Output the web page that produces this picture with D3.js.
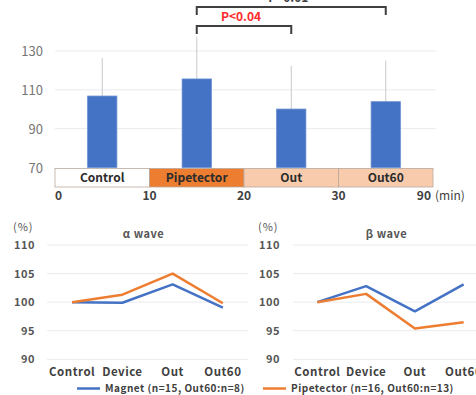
<!DOCTYPE html>
<html>
<head>
<meta charset="utf-8">
<script src="https://cdn.jsdelivr.net/npm/d3@7.9.0/dist/d3.min.js"></script>
<style>
  body { margin: 0; background: #fff; }
  svg { display: block; font-family: 'Noto Sans CJK JP', 'Noto Sans', sans-serif; }
</style>
</head>
<body>
<svg id="chart" width="476" height="395"></svg>
<script>
// top bar chart
const phases = ['Control', 'Pipetector', 'Out', 'Out60'];
const barMeans = [106.8, 115.6, 100.1, 103.9];
const barUpper = [126.4, 137.5, 122.4, 125.2];
const barTicks = [70, 90, 110, 130];
const timeLabels = ['0', '10', '20', '30', '90'];
const phaseFills = ['#ffffff', '#ed7d31', '#f8cbad', '#f8cbad'];

// line charts
const points = ['Control', 'Device', 'Out', 'Out60'];
const alphaMagnet = [100, 99.9, 103.1, 99.05];
const alphaPipetector = [100, 101.3, 105.0, 99.8];
const betaMagnet = [100, 102.8, 98.4, 103.1];
const betaPipetector = [100, 101.45, 95.4, 96.5];
const lineTicks = [90, 95, 100, 105, 110];
const seriesNames = ['Magnet (n=15, Out60:n=8)', 'Pipetector (n=16, Out60:n=13)'];
const seriesColors = ['#4472c4', '#ed7d31'];

const svg = d3.select('#chart');

// ---- top chart ----
const x = d3.scaleBand().domain(phases).range([55, 433]);
const y = d3.scaleLinear().domain([70, 130]).range([167.5, 51]);

svg.append('g').selectAll('line')
  .data(barTicks.slice(1))
  .join('line')
  .attr('x1', 55).attr('x2', 436)
  .attr('y1', d => y(d)).attr('y2', d => y(d))
  .attr('stroke', '#ebebeb');

svg.append('g').selectAll('text')
  .data(barTicks)
  .join('text')
  .attr('x', 43).attr('y', d => y(d) + 5)
  .attr('text-anchor', 'end')
  .attr('font-size', 13)
  .attr('fill', '#767676')
  .text(d => d);

// error bars (upper only)
svg.append('g').selectAll('line')
  .data(phases)
  .join('line')
  .attr('x1', d => x(d) + x.bandwidth() / 2)
  .attr('x2', d => x(d) + x.bandwidth() / 2)
  .attr('y1', (d, i) => y(barMeans[i]))
  .attr('y2', (d, i) => y(barUpper[i]))
  .attr('stroke', '#c8c8c8')
  .attr('stroke-width', 1);

const bw = x.bandwidth() * 0.31;
svg.append('g').selectAll('rect')
  .data(phases)
  .join('rect')
  .attr('x', d => x(d) + x.bandwidth() / 2 - bw / 2)
  .attr('width', bw)
  .attr('y', (d, i) => y(barMeans[i]))
  .attr('height', (d, i) => y(70) - y(barMeans[i]))
  .attr('fill', '#4472c4')
  .attr('stroke', '#6a8fd3')
  .attr('stroke-width', 0.8);

// phase strip
const strip = svg.append('g');
strip.selectAll('rect')
  .data(phases)
  .join('rect')
  .attr('x', d => x(d))
  .attr('y', 168.5)
  .attr('width', x.bandwidth())
  .attr('height', 18.5)
  .attr('fill', (d, i) => phaseFills[i])
  .attr('stroke', '#b9a89c')
  .attr('stroke-width', 0.8);
strip.selectAll('text')
  .data(phases)
  .join('text')
  .attr('x', d => x(d) + x.bandwidth() / 2)
  .attr('y', 182)
  .attr('text-anchor', 'middle')
  .attr('font-size', 12)
  .attr('font-weight', 'bold')
  .attr('fill', '#2b2b2b')
  .text(d => d);

// time labels at strip boundaries
const bounds = phases.map(d => x(d)).concat([x.range()[1]]);
svg.append('g').selectAll('text')
  .data(timeLabels)
  .join('text')
  .attr('x', (d, i) => i === 0 ? bounds[i] : i === 4 ? bounds[i] - 2 : bounds[i])
  .attr('y', 200)
  .attr('text-anchor', (d, i) => i === 0 ? 'start' : i === 4 ? 'end' : 'middle')
  .attr('font-size', 12)
  .attr('font-weight', 'bold')
  .attr('fill', '#404040')
  .text(d => d);
svg.append('text')
  .attr('x', bounds[4] + 2).attr('y', 200)
  .attr('font-size', 12)
  .attr('fill', '#404040')
  .text('(min)');

// significance brackets
const cx = d => x(d) + x.bandwidth() / 2;
function bracket(a, b, top, label, color) {
  svg.append('path')
    .attr('d', `M${cx(a)},${top + 8}V${top}H${cx(b)}V${top + 8}`)
    .attr('fill', 'none')
    .attr('stroke', '#3f3f3f')
    .attr('stroke-width', 2);
  svg.append('text')
    .attr('x', (cx(a) + cx(b)) / 2 - 3)
    .attr('y', top - 5)
    .attr('text-anchor', 'middle')
    .attr('font-size', 12)
    .attr('font-weight', 'bold')
    .attr('fill', color)
    .text(label);
}
bracket('Pipetector', 'Out60', 7, 'P<0.01', '#3f3f3f');
bracket('Pipetector', 'Out', 26, 'P<0.04', '#ff2a2a');

// ---- bottom line charts ----
const yl = d3.scaleLinear().domain([90, 110]).range([359.3, 245]);

function linePanel(x0, x1, labelRight, title, magnet, pipetector) {
  const xs = d3.scalePoint().domain(points).range([x0, x1]).padding(0.5);
  const g = svg.append('g');
  g.selectAll('line')
    .data(lineTicks)
    .join('line')
    .attr('x1', x0).attr('x2', x1)
    .attr('y1', d => yl(d)).attr('y2', d => yl(d))
    .attr('stroke', '#ebebeb');
  g.selectAll('text.tick')
    .data(lineTicks)
    .join('text')
    .attr('class', 'tick')
    .attr('x', labelRight).attr('y', d => yl(d) + 4)
    .attr('text-anchor', 'end')
    .attr('font-size', 11)
    .attr('font-weight', 'bold')
    .attr('letter-spacing', 0.5)
    .attr('fill', '#555')
    .text(d => d);
  g.append('text')
    .attr('x', labelRight - 22).attr('y', 231)
    .attr('font-size', 11)
    .attr('letter-spacing', 1)
    .attr('fill', '#555')
    .text('(%)');
  g.append('text')
    .attr('x', (x0 + x1) / 2 - 4).attr('y', 238)
    .attr('text-anchor', 'middle')
    .attr('font-size', 11)
    .attr('font-weight', 'bold')
    .attr('letter-spacing', 0.5)
    .attr('fill', '#555')
    .text(title);
  g.selectAll('text.cat')
    .data(points)
    .join('text')
    .attr('class', 'cat')
    .attr('x', d => xs(d)).attr('y', 376)
    .attr('text-anchor', 'middle')
    .attr('font-size', 11.5)
    .attr('font-weight', 'bold')
    .attr('letter-spacing', 0.5)
    .attr('fill', '#404040')
    .text(d => d);
  const line = d3.line().x((d, i) => xs(points[i])).y(d => yl(d));
  [magnet, pipetector].forEach((s, k) => {
    g.append('path')
      .attr('d', line(s))
      .attr('fill', 'none')
      .attr('stroke', seriesColors[k])
      .attr('stroke-width', 2.5)
      .attr('stroke-linejoin', 'round');
  });
}
linePanel(47, 248, 35, 'α wave', alphaMagnet, alphaPipetector);
linePanel(293, 488, 280, 'β wave', betaMagnet, betaPipetector);

// legend
const legendX = [77, 263];
seriesNames.forEach((name, k) => {
  svg.append('line')
    .attr('x1', legendX[k]).attr('x2', legendX[k] + 23)
    .attr('y1', 388.5).attr('y2', 388.5)
    .attr('stroke', seriesColors[k])
    .attr('stroke-width', 2.5);
  svg.append('text')
    .attr('x', legendX[k] + 28).attr('y', 392)
    .attr('font-size', 10)
    .attr('font-weight', 'bold')
    .attr('letter-spacing', 0.5)
    .attr('fill', '#404040')
    .text(name);
});
</script>
</body>
</html>
